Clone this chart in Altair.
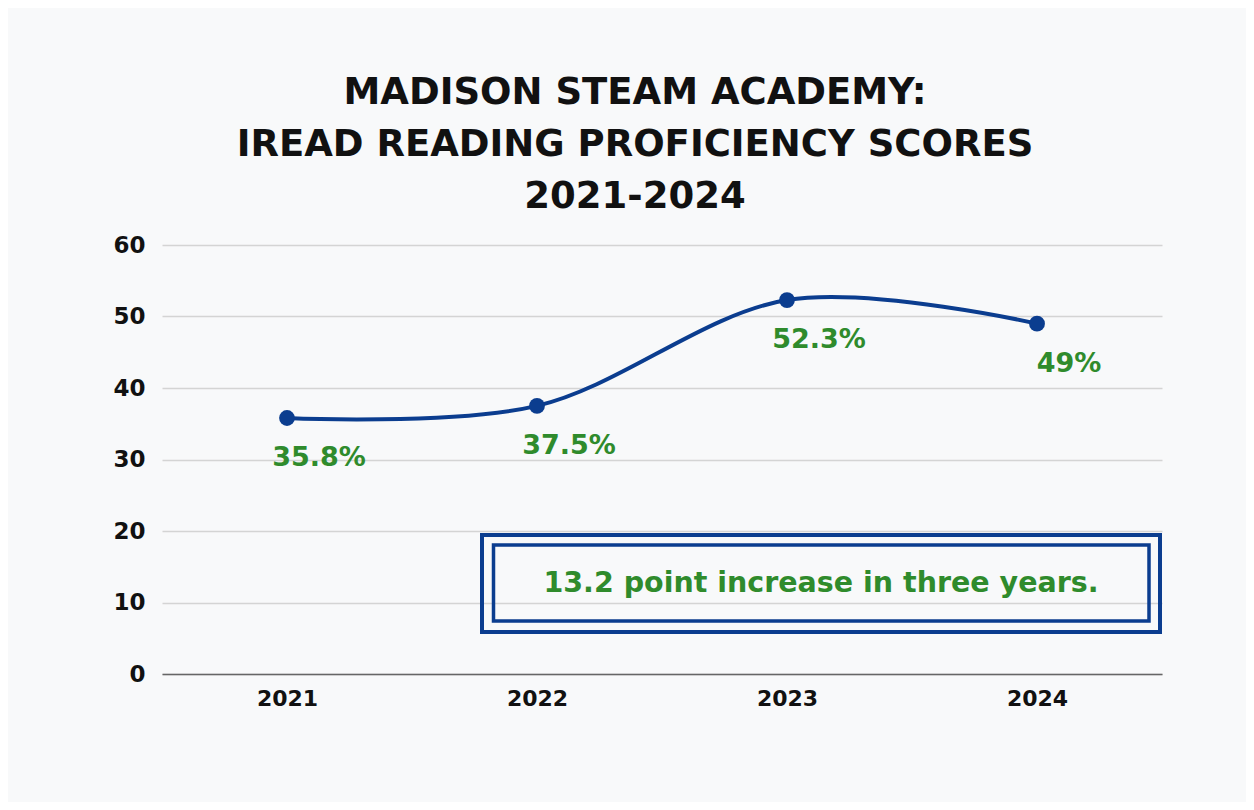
import altair as alt
import pandas as pd

# ---- data ----
years = ["2021", "2022", "2023", "2024"]
scores = [35.8, 37.5, 52.3, 49.0]
score_labels = ["35.8%", "37.5%", "52.3%", "49%"]
y_ticks = [0, 10, 20, 30, 40, 50, 60]
title_lines = ["MADISON STEAM ACADEMY:", "IREAD READING PROFICIENCY SCORES", "2021-2024"]
note_text = ["13.2 point increase in three years."]

df = pd.DataFrame({"year": years, "score": scores, "label": score_labels})
note_df = pd.DataFrame({"note": note_text})

FONT = "DejaVu Sans"
BLUE = "#0b3d8f"
GREEN = "#2f8b2c"
INK = "#111111"

x_enc = alt.X(
    "year:O",
    sort=years,
    scale=alt.Scale(type="point", padding=0.5),
    axis=alt.Axis(
        title=None, labelAngle=0, labelFont=FONT, labelFontSize=22,
        labelFontWeight="bold", labelColor=INK, labelPadding=14,
        ticks=False, domain=True, domainColor="#666666", domainWidth=1.5,
        grid=False,
    ),
)
y_enc = alt.Y(
    "score:Q",
    scale=alt.Scale(domain=[0, 60]),
    axis=alt.Axis(
        title=None, values=y_ticks, labelFont=FONT, labelFontSize=23,
        labelFontWeight="bold", labelColor=INK, labelPadding=17,
        ticks=False, domain=False, grid=True, gridColor="#d4d4d4",
        gridWidth=1.5,
    ),
)

base = alt.Chart(df).encode(x=x_enc, y=y_enc)

line = base.mark_line(interpolate="cardinal", color=BLUE, strokeWidth=4)
pts = base.mark_circle(size=250, color=BLUE, opacity=1)
txt = base.mark_text(
    dx=32, dy=40, color=GREEN, font=FONT, fontSize=27, fontWeight="bold"
).encode(text="label:N")

outer = alt.Chart(note_df).mark_rect(
    filled=False, stroke=BLUE, strokeWidth=4
).encode(x=alt.value(320), x2=alt.value(998), y=alt.value(290), y2=alt.value(387))
inner = alt.Chart(note_df).mark_rect(
    filled=False, stroke=BLUE, strokeWidth=3.5
).encode(x=alt.value(331.5), x2=alt.value(987), y=alt.value(300), y2=alt.value(376))
note = alt.Chart(note_df).mark_text(
    color=GREEN, font=FONT, fontSize=28.5, fontWeight="bold"
).encode(x=alt.value(659), y=alt.value(338), text="note:N")

chart = alt.layer(line, pts, txt, outer, inner, note).properties(
    width=1000,
    height=429,
    autosize=alt.AutoSizeParams(type="none"),
    padding={"left": 154, "top": 237, "right": 84, "bottom": 128},
    background="#f8f9fa",
    title=alt.TitleParams(
        text=title_lines, font=FONT, fontSize=37, fontWeight="bold",
        color=INK, lineHeight=52, anchor="middle", dx=-27, offset=18,
    ),
).configure_view(stroke=None)

chart.save("out.html", embed_options={"renderer": "svg", "actions": False})
